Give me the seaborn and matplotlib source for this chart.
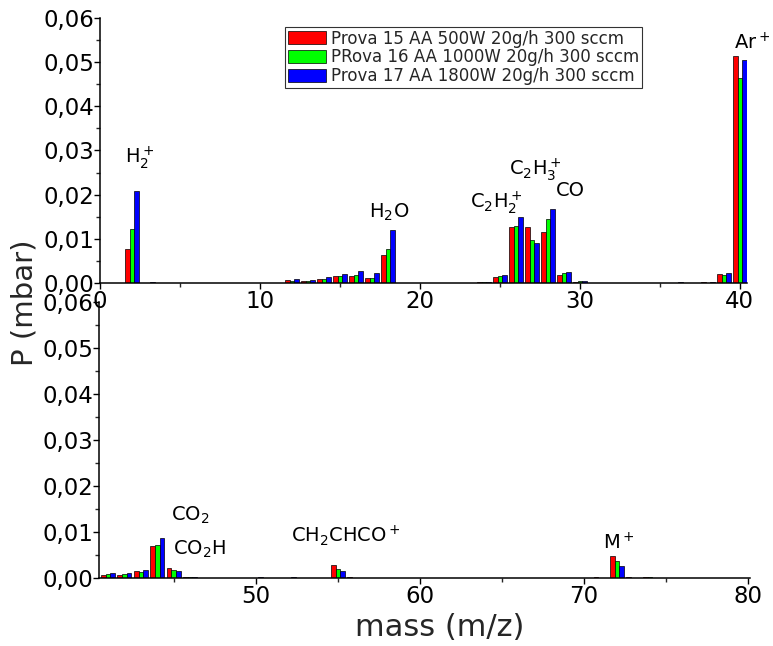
import numpy as np
import pandas as pd
import matplotlib
matplotlib.use("Agg")
import matplotlib.pyplot as plt
import seaborn as sns
from matplotlib.ticker import MultipleLocator, FuncFormatter

# ---- data ----
masses = [2, 3, 12, 13, 14, 15, 16, 17, 18, 19, 24, 25, 26, 27, 28, 29, 30, 31, 32,
          36, 37, 38, 39, 40,
          41, 42, 43, 44, 45, 46, 47, 50, 52, 53, 55, 56, 57, 71, 72, 73, 74]
prova15 = [0.0078, 0.0, 0.0006, 0.0004, 0.0010, 0.0015, 0.0016, 0.0012, 0.0063, 0.0001,
           0.0002, 0.0013, 0.0127, 0.0127, 0.0116, 0.0019, 0.0003, 0.0001, 0.0001,
           0.0001, 0.0001, 0.0002, 0.0020, 0.0514,
           0.0006, 0.0007, 0.0015, 0.0070, 0.0022, 0.0002, 0.0001, 0.0001, 0.0001, 0.0001,
           0.0029, 0.0002, 0.0001, 0.0003, 0.0048, 0.0002, 0.0002]
prova16 = [0.0122, 0.0, 0.0005, 0.0005, 0.0009, 0.0015, 0.0017, 0.0012, 0.0076, 0.0001,
           0.0002, 0.0015, 0.0129, 0.0098, 0.0145, 0.0022, 0.0005, 0.0001, 0.0001,
           0.0, 0.0001, 0.0001, 0.0019, 0.0464,
           0.0008, 0.0008, 0.0012, 0.0071, 0.0017, 0.0002, 0.0001, 0.0001, 0.0001, 0.0001,
           0.0019, 0.0001, 0.0001, 0.0001, 0.0036, 0.0001, 0.0002]
prova17 = [0.0208, 0.0002, 0.0010, 0.0006, 0.0014, 0.0020, 0.0027, 0.0022, 0.0119, 0.0001,
           0.0002, 0.0019, 0.0149, 0.0091, 0.0168, 0.0025, 0.0005, 0.0001, 0.0,
           0.0002, 0.0001, 0.0002, 0.0023, 0.0505,
           0.0011, 0.0010, 0.0017, 0.0088, 0.0015, 0.0002, 0.0001, 0.0003, 0.0002, 0.0001,
           0.0016, 0.0001, 0.0001, 0.0001, 0.0027, 0.0001, 0.0001]
series_names = ["Prova 15 AA 500W 20g/h 300 sccm",
                "PRova 16 AA 1000W 20g/h 300 sccm",
                "Prova 17 AA 1800W 20g/h 300 sccm"]
colors = ["#FF0000", "#00FF00", "#0000FF"]

top_labels = ["H$_2^+$", "H$_2$O", "C$_2$H$_2^+$", "C$_2$H$_3^+$", "CO", "Ar$^+$"]
top_label_x = [2.5, 18.1, 24.75, 27.2, 29.4, 40.8]
top_label_y = [0.0283, 0.0160, 0.0183, 0.0256, 0.0210, 0.0545]
bot_labels = ["CO$_2$", "CO$_2$H", "CH$_2$CHCO$^+$", "M$^+$"]
bot_label_x = [46.0, 46.6, 55.5, 72.1]
bot_label_y = [0.0137, 0.0063, 0.0091, 0.0076]

df = pd.DataFrame({
    "mass": masses * 3,
    "P": prova15 + prova16 + prova17,
    "series": np.repeat(series_names, len(masses)),
})

sns.set_theme(style="ticks")
plt.rcParams["font.family"] = ["DejaVu Sans"]

W, H = 773, 646
fig = plt.figure(figsize=(W / 100, H / 100), dpi=100)
ax1 = fig.add_axes([100 / W, 1 - 283 / H, (747 - 100) / W, (283 - 18) / H])
ax2 = fig.add_axes([99 / W, 1 - 578 / H, (750 - 99) / W, (578 - 302) / H])

fmt = FuncFormatter(lambda v, p: f"{v:.2f}".replace(".", ","))

panels = [(ax1, df[df["mass"] <= 40], (0, 40.45), [0, 10, 20, 30, 40]),
          (ax2, df[df["mass"] > 40], (40.45, 80.1), [50, 60, 70, 80])]
for ax, sub, xl, xt in panels:
    sns.barplot(data=sub, x="mass", y="P", hue="series", hue_order=series_names,
                palette=colors, native_scale=True, width=0.85, dodge=True,
                edgecolor="black", linewidth=0.5, errorbar=None,
                legend=(ax is ax1), ax=ax, saturation=1)
    ax.set_xlim(*xl)
    ax.set_ylim(0, 0.06)
    ax.set_xticks(xt)
    ax.xaxis.set_minor_locator(MultipleLocator(5))
    ax.yaxis.set_major_locator(MultipleLocator(0.01))
    ax.yaxis.set_minor_locator(MultipleLocator(0.005))
    ax.yaxis.set_major_formatter(fmt)
    ax.set_xlabel("")
    ax.set_ylabel("")
    ax.tick_params(axis="both", which="major", direction="out", length=4, width=1,
                   labelsize=16.5, pad=1, colors="black")
    ax.tick_params(axis="y", which="major", pad=0)
    ax.tick_params(axis="both", which="minor", direction="out", length=3, width=1)
    sns.despine(ax=ax)
    for s in ["left", "bottom"]:
        ax.spines[s].set_linewidth(1.1)
        ax.spines[s].set_color("black")
    ax.set_facecolor("none")

for t, x, y in zip(top_labels, top_label_x, top_label_y):
    ax1.text(x, y, t, ha="center", va="center", fontsize=14, color="black")
for t, x, y in zip(bot_labels, bot_label_x, bot_label_y):
    ax2.text(x, y, t, ha="center", va="center", fontsize=14, color="black")

leg = ax1.legend(title=None, loc="upper left", bbox_to_anchor=(285 / W, 1 - 27 / H),
                 bbox_transform=fig.transFigure, frameon=True, fancybox=False,
                 edgecolor="black", fontsize=12, handlelength=2.3, handleheight=0.8,
                 borderpad=0.15, labelspacing=0.05, handletextpad=0.3, borderaxespad=0)
leg.get_frame().set_linewidth(0.8)

fig.text(24 / W, 1 - 303 / H, "P (mbar)", rotation=90, ha="center", va="center",
         fontsize=21)
fig.text(440 / W, 1 - 628 / H, "mass (m/z)", ha="center", va="center", fontsize=22)

fig.savefig("out.png", dpi=100)
